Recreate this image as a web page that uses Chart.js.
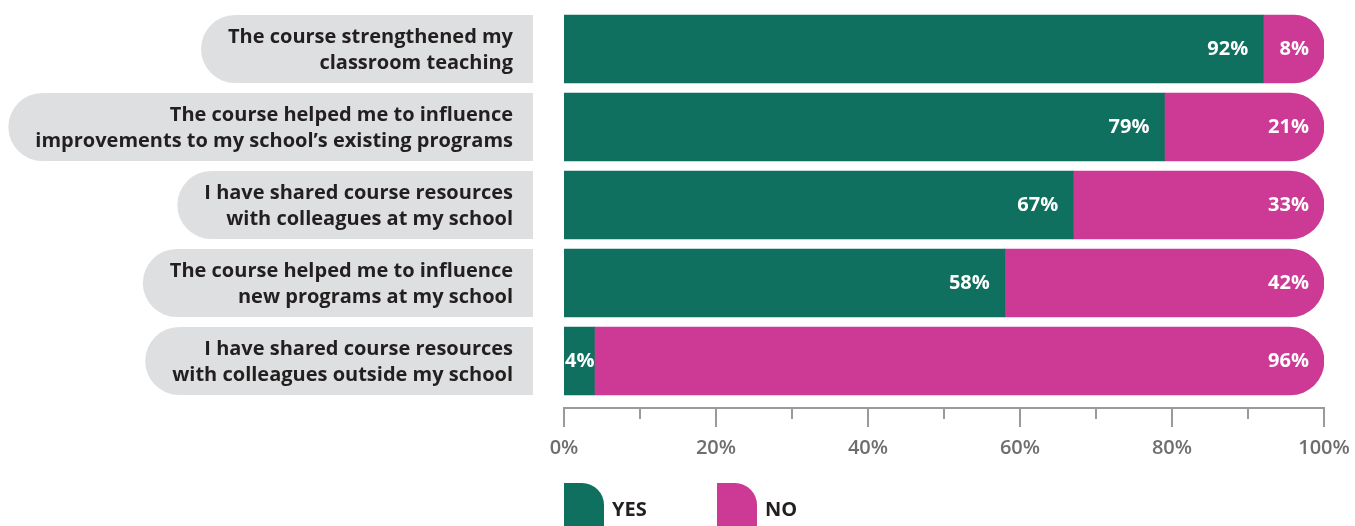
<!DOCTYPE html>
<html>
<head>
<meta charset="utf-8">
<script src="https://cdn.jsdelivr.net/npm/chart.js@4/dist/chart.umd.min.js"></script>
<style>
  html, body { margin: 0; padding: 0; background: #fff; overflow: hidden; }
  #wrap { width: 1355px; height: 526px; position: relative; }
</style>
</head>
<body>
<div id="wrap"><canvas id="courseChart"></canvas></div>
<script>
const statements = [
    ['The course strengthened my', 'classroom teaching'],
    ['The course helped me to influence', 'improvements to my school\u2019s existing programs'],
    ['I have shared course resources', 'with colleagues at my school'],
    ['The course helped me to influence', 'new programs at my school'],
    ['I have shared course resources', 'with colleagues outside my school']
];
const yesValues = [92, 79, 67, 58, 4];
const noValues = [8, 21, 33, 42, 96];
const seriesNames = ['YES', 'NO'];
const tickValues = [0, 20, 40, 60, 80, 100];

const GREEN = '#10705f';
const PINK = '#cc3a95';
const PILL = '#dedfe0';
const TEXT = '#231f20';
const AXIS = '#9a9a9a';
const FONT = '"Open Sans", Lato, sans-serif';

// grey rounded pills with the statement text, left of each bar
const pillLabels = {
    id: 'pillLabels',
    beforeDatasetsDraw(chart) {
        const ctx = chart.ctx;
        const yScale = chart.scales.y;
        const bars = chart.getDatasetMeta(0).data;
        const right = chart.chartArea.left - 31;
        ctx.save();
        ctx.font = 'bold 20px ' + FONT;
        chart.data.labels.forEach((lines, i) => {
            const yc = yScale.getPixelForValue(i);
            const h = bars[i].height;
            const r = h / 2;
            const textRight = right - 20;
            const w = Math.max(...lines.map(l => ctx.measureText(l).width));
            const left = textRight - w - 27;
            ctx.fillStyle = PILL;
            ctx.beginPath();
            ctx.moveTo(right, yc - r);
            ctx.lineTo(left + r, yc - r);
            ctx.arc(left + r, yc, r, -Math.PI / 2, Math.PI / 2, true);
            ctx.lineTo(right, yc + r);
            ctx.closePath();
            ctx.fill();
            ctx.fillStyle = TEXT;
            ctx.textAlign = 'right';
            ctx.textBaseline = 'middle';
            ctx.fillText(lines[0], textRight, yc - 12);
            ctx.fillText(lines[1], textRight, yc + 14);
        });
        ctx.restore();
    }
};

// white percentage labels at the end of each segment
const valueLabels = {
    id: 'valueLabels',
    afterDatasetsDraw(chart) {
        const ctx = chart.ctx;
        ctx.save();
        ctx.font = 'bold 20px ' + FONT;
        ctx.fillStyle = '#ffffff';
        ctx.textAlign = 'right';
        ctx.textBaseline = 'middle';
        chart.data.datasets.forEach((ds, d) => {
            chart.getDatasetMeta(d).data.forEach((bar, i) => {
                const txt = ds.data[i] + '%';
                const tw = ctx.measureText(txt).width;
                const x = Math.max(bar.x - 15, bar.base + tw + 1);
                ctx.fillText(txt, x, bar.y);
            });
        });
        ctx.restore();
    }
};

// axis line with long ticks every 20% and short ones between, plus legend
const axisAndLegend = {
    id: 'axisAndLegend',
    afterDraw(chart) {
        const ctx = chart.ctx;
        const xScale = chart.scales.x;
        const y0 = chart.chartArea.bottom + 8;
        ctx.save();
        ctx.strokeStyle = AXIS;
        ctx.lineWidth = 2;
        ctx.beginPath();
        ctx.moveTo(xScale.getPixelForValue(0) - 1, y0);
        ctx.lineTo(xScale.getPixelForValue(100) + 1, y0);
        xScale.ticks.forEach(t => {
            const x = xScale.getPixelForValue(t.value);
            ctx.moveTo(x, y0);
            ctx.lineTo(x, y0 + (t.value % 20 === 0 ? 19 : 11));
        });
        ctx.stroke();

        // legend
        let x = xScale.getPixelForValue(0);
        const top = 483;
        ctx.font = 'bold 20px ' + FONT;
        ctx.textBaseline = 'middle';
        ctx.textAlign = 'left';
        chart.data.datasets.forEach((ds, d) => {
            const r = 22;
            ctx.fillStyle = ds.backgroundColor;
            ctx.beginPath();
            ctx.moveTo(x, top);
            ctx.lineTo(x + 40 - r, top);
            ctx.arc(x + 40 - r, top + r, r, -Math.PI / 2, 0);
            ctx.lineTo(x + 40, top + 60);
            ctx.lineTo(x, top + 60);
            ctx.closePath();
            ctx.fill();
            ctx.fillStyle = TEXT;
            ctx.fillText(ds.label, x + 48, 510);
            x += 153;
        });
        ctx.restore();
    }
};

new Chart(document.getElementById('courseChart'), {
    type: 'bar',
    data: {
        labels: statements,
        datasets: [
            {
                label: seriesNames[0],
                data: yesValues,
                backgroundColor: GREEN,
                borderRadius: 0,
                barThickness: 68
            },
            {
                label: seriesNames[1],
                data: noValues,
                backgroundColor: PINK,
                borderRadius: 34,
                borderSkipped: 'start',
                barThickness: 68
            }
        ]
    },
    options: {
        indexAxis: 'y',
        responsive: true,
        maintainAspectRatio: false,
        animation: false,
        layout: { padding: { left: 564, right: 31, top: 10, bottom: 38 } },
        scales: {
            x: {
                stacked: true,
                min: 0,
                max: 100,
                grid: { display: false },
                border: { display: false },
                afterFit: s => { s.paddingLeft = 0; s.paddingRight = 0; },
                ticks: {
                    stepSize: 10,
                    padding: 28,
                    autoSkip: false,
                    maxRotation: 0,
                    color: '#6d6e70',
                    font: { family: FONT, size: 20, weight: '600' },
                    callback: v => tickValues.includes(v) ? v + '%' : ''
                }
            },
            y: {
                stacked: true,
                display: false
            }
        },
        plugins: {
            legend: { display: false },
            tooltip: { enabled: false }
        }
    },
    plugins: [pillLabels, valueLabels, axisAndLegend]
});
</script>
</body>
</html>
